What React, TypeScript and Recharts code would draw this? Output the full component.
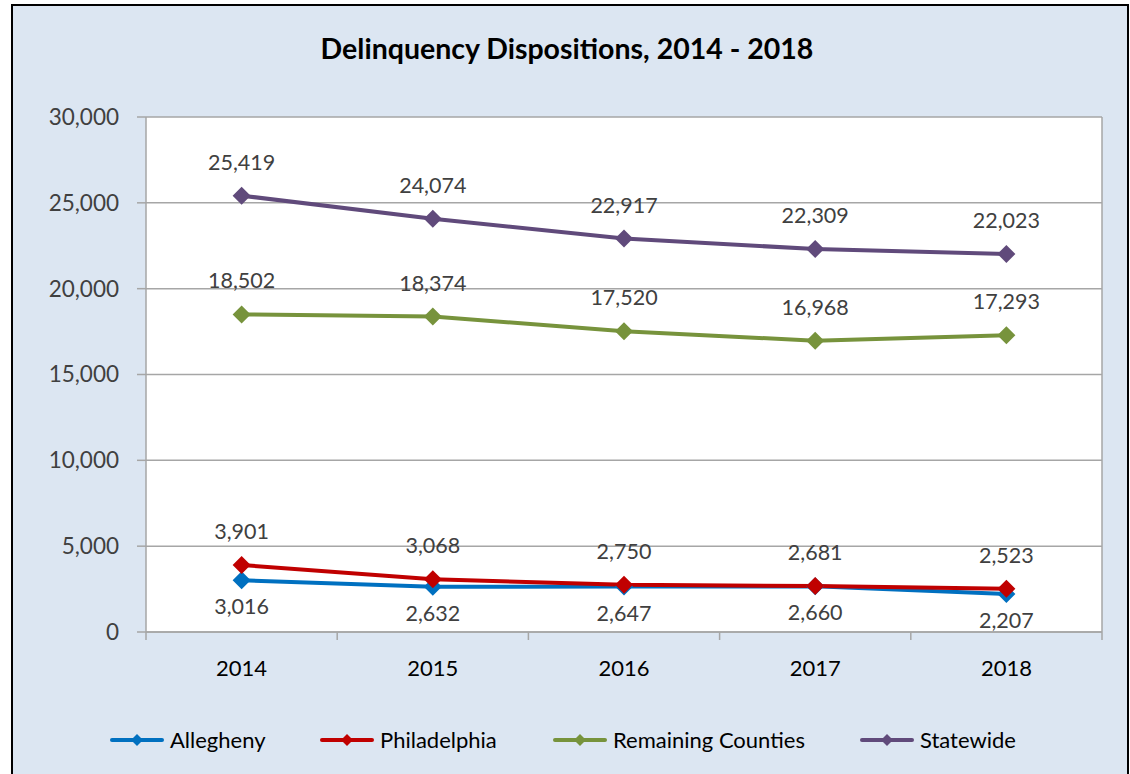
import React from 'react';
import { LineChart, Line, XAxis, YAxis, CartesianGrid, ReferenceLine, LabelList } from 'recharts';

const years = ['2014', '2015', '2016', '2017', '2018'];
const allegheny = [3016, 2632, 2647, 2660, 2207];
const philadelphia = [3901, 3068, 2750, 2681, 2523];
const remaining = [18502, 18374, 17520, 16968, 17293];
const statewide = [25419, 24074, 22917, 22309, 22023];
const yTicks = [0, 5000, 10000, 15000, 20000, 25000, 30000];

const series = [
  { key: 'allegheny', name: 'Allegheny', color: '#0070C0', values: allegheny, below: true },
  { key: 'philadelphia', name: 'Philadelphia', color: '#C00000', values: philadelphia, below: false },
  { key: 'remaining', name: 'Remaining Counties', color: '#77933C', values: remaining, below: false },
  { key: 'statewide', name: 'Statewide', color: '#604A7B', values: statewide, below: false },
];

// points sit in the middle of each category band, ticks on the band edges
const data = years.map((y, i) => ({
  x: i + 0.5,
  year: y,
  allegheny: allegheny[i],
  philadelphia: philadelphia[i],
  remaining: remaining[i],
  statewide: statewide[i],
}));
const xTicks = [0, 0.5, 1, 1.5, 2, 2.5, 3, 3.5, 4, 4.5, 5];

const FONT = 'Lato, "Open Sans", sans-serif';
const GRID = '#A6A6A6';

const diamond = (color: string, r: number) => (props: any) => {
  const { cx, cy, index } = props;
  if (cx == null || cy == null) return <g key={index} />;
  return (
    <polygon
      key={index}
      points={`${cx},${cy - r} ${cx + r},${cy} ${cx},${cy + r} ${cx - r},${cy}`}
      fill={color}
    />
  );
};

const valueLabel = (below: boolean) => (props: any) => {
  const { x, y, value, index } = props;
  return (
    <text
      key={index}
      x={x}
      y={below ? y + 26 : y - 34}
      textAnchor="middle"
      dominantBaseline="central"
      fill="#404040"
      fontSize={21.5}
      fontFamily={FONT}
    >
      {Number(value).toLocaleString('en-US')}
    </text>
  );
};

const XTick = (props: any) => {
  const { x, y, payload } = props;
  const v = payload.value;
  if (Number.isInteger(v)) {
    return <line x1={x} x2={x} y1={y} y2={y + 8} stroke={GRID} strokeWidth={1.5} />;
  }
  return (
    <text x={x} y={y + 35} textAnchor="middle" dominantBaseline="central" fill="#000" fontSize={22} fontFamily={FONT}>
      {years[Math.floor(v)]}
    </text>
  );
};

const LegendIcon = ({ color }: { color: string }) => (
  <svg width={54} height={14} style={{ marginRight: 6 }}>
    <line x1={2} x2={52} y1={7} y2={7} stroke={color} strokeWidth={4} strokeLinecap="round" />
    <polygon points="27,1 33,7 27,13 21,7" fill={color} />
  </svg>
);

export default function App() {
  return (
    <div style={{ position: 'absolute', left: 0, top: 0, width: 1130, height: 774, overflow: 'hidden', background: '#fff' }}>
      <div
        style={{
          position: 'absolute',
          left: 11,
          top: 4,
          width: 1114,
          height: 820,
          background: '#DCE6F2',
          border: '2px solid #000',
        }}
      />
      <div
        style={{
          position: 'absolute',
          left: 0,
          top: 31,
          width: 1134,
          textAlign: 'center',
          fontFamily: FONT,
          fontWeight: 700,
          fontSize: 28.5,
          color: '#000',
        }}
      >
        Delinquency Dispositions, 2014 - 2018
      </div>
      <div style={{ position: 'absolute', left: 0, top: 0 }}>
        <LineChart width={1130} height={774} data={data} margin={{ top: 117, right: 28, bottom: 100, left: 46 }}>
          <CartesianGrid vertical={false} stroke={GRID} strokeWidth={1.5} fill="#fff" />
          <XAxis
            dataKey="x"
            type="number"
            domain={[0, 5]}
            ticks={xTicks}
            interval={0}
            tick={<XTick />}
            tickLine={false}
            tickSize={0}
            tickMargin={0}
            axisLine={{ stroke: GRID, strokeWidth: 1.5 }}
            height={42}
          />
          <YAxis
            domain={[0, 30000]}
            ticks={yTicks}
            interval={0}
            width={100}
            tickFormatter={(v: number) => v.toLocaleString('en-US')}
            tick={{ fill: '#404040', fontSize: 22.5, fontFamily: FONT }}
            tickLine={{ stroke: GRID, strokeWidth: 1.5 }}
            tickSize={9}
            tickMargin={18}
            axisLine={{ stroke: GRID, strokeWidth: 1.5 }}
          />
          <ReferenceLine x={5} stroke={GRID} strokeWidth={1.5} />
          {series.map((s) => (
            <Line
              key={s.key}
              dataKey={s.key}
              name={s.name}
              stroke={s.color}
              strokeWidth={4}
              dot={diamond(s.color, 9)}
              activeDot={false}
              isAnimationActive={false}
            >
              <LabelList dataKey={s.key} content={valueLabel(s.below)} />
            </Line>
          ))}
        </LineChart>
      </div>
      <div
        style={{
          position: 'absolute',
          top: 726,
          left: 0,
          width: 1130,
          fontFamily: FONT,
          fontSize: 22,
          color: '#000',
        }}
      >
        {series.map((s, i) => (
          <div
            key={s.key}
            style={{ position: 'absolute', left: [110, 320, 553, 860][i], display: 'flex', alignItems: 'center', whiteSpace: 'nowrap' }}
          >
            <LegendIcon color={s.color} />
            {s.name}
          </div>
        ))}
      </div>
    </div>
  );
}
